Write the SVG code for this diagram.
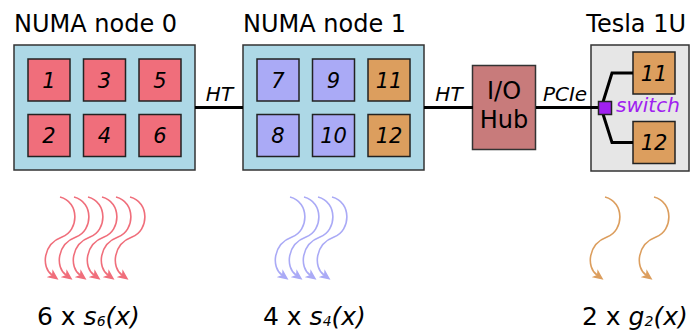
<svg xmlns="http://www.w3.org/2000/svg" width="692" height="331" viewBox="0 0 692 331">
<style>
text{font-family:"DejaVu Sans","Liberation Sans",sans-serif;fill:#000}
.title{font-size:24px}
.num{font-size:21px;font-style:italic;text-anchor:middle}
.lbl{font-size:20px;font-style:italic;text-anchor:middle}
.box{fill:#add8e6;stroke:#333;stroke-width:1.5}
.red{fill:#f06e7b;stroke:#222;stroke-width:1.5}
.blu{fill:#aaaaf6;stroke:#222;stroke-width:1.5}
.org{fill:#dc9e5e;stroke:#222;stroke-width:1.5}
.wire{stroke:#000;stroke-width:3;fill:none}
.bot{font-size:25px}
.it{font-style:italic}
</style>
<defs>
<path id="wave" d="M0,0 C20,5 19,34 2,40 C-17,47 -19,70 -8,78" fill="none" stroke-width="1.6"/>
<marker id="mr" markerUnits="userSpaceOnUse" markerWidth="11" markerHeight="10" viewBox="0 0 11 10" refX="3" refY="5" orient="auto"><path d="M0,0 L11,5 L0,10 L3,5 z" fill="#f06e7b"/></marker>
<marker id="mb" markerUnits="userSpaceOnUse" markerWidth="11" markerHeight="10" viewBox="0 0 11 10" refX="3" refY="5" orient="auto"><path d="M0,0 L11,5 L0,10 L3,5 z" fill="#aaaaf6"/></marker>
<marker id="mo" markerUnits="userSpaceOnUse" markerWidth="11" markerHeight="10" viewBox="0 0 11 10" refX="3" refY="5" orient="auto"><path d="M0,0 L11,5 L0,10 L3,5 z" fill="#dc9e5e"/></marker>
</defs>

<g id="numa0">
<text class="title" x="14" y="32">NUMA node 0</text>
<rect class="box" x="14" y="45" width="181" height="125"/>
<rect class="red" x="28" y="59" width="42" height="42"/><text class="num" x="49" y="87.5">1</text>
<rect class="red" x="83.5" y="59" width="42" height="42"/><text class="num" x="104.5" y="87.5">3</text>
<rect class="red" x="139" y="59" width="42" height="42"/><text class="num" x="160" y="87.5">5</text>
<rect class="red" x="28" y="114.5" width="42" height="42"/><text class="num" x="49" y="143">2</text>
<rect class="red" x="83.5" y="114.5" width="42" height="42"/><text class="num" x="104.5" y="143">4</text>
<rect class="red" x="139" y="114.5" width="42" height="42"/><text class="num" x="160" y="143">6</text>
</g>

<g id="numa1">
<text class="title" x="243" y="32">NUMA node 1</text>
<rect class="box" x="243" y="45" width="181" height="125"/>
<rect class="blu" x="257" y="59" width="42" height="42"/><text class="num" x="278" y="87.5">7</text>
<rect class="blu" x="312.5" y="59" width="42" height="42"/><text class="num" x="333.5" y="87.5">9</text>
<rect class="org" x="368" y="59" width="42" height="42"/><text class="num" x="389" y="87.5">11</text>
<rect class="blu" x="257" y="114.5" width="42" height="42"/><text class="num" x="278" y="143">8</text>
<rect class="blu" x="312.5" y="114.5" width="42" height="42"/><text class="num" x="333.5" y="143">10</text>
<rect class="org" x="368" y="114.5" width="42" height="42"/><text class="num" x="389" y="143">12</text>
</g>

<g id="iohub">
<rect x="472.5" y="65.5" width="63" height="84" fill="#c87b7b" stroke="#333" stroke-width="1.5"/>
<text class="title" x="504" y="99" text-anchor="middle">I/O</text>
<text class="title" x="504" y="128" text-anchor="middle">Hub</text>
</g>

<g id="tesla">
<text class="title" x="686" y="32" text-anchor="end">Tesla 1U</text>
<rect x="591" y="45" width="98" height="126" fill="#e6e6e6" stroke="#333" stroke-width="1.5"/>
<rect class="org" x="633" y="52" width="42" height="42"/><text class="num" x="654" y="80.5">11</text>
<rect class="org" x="633" y="121.5" width="42" height="42"/><text class="num" x="654" y="150">12</text>
</g>

<g id="connectors">
<line class="wire" x1="195" y1="107.5" x2="243" y2="107.5"/>
<line class="wire" x1="424" y1="107.5" x2="473" y2="107.5"/>
<line class="wire" x1="536" y1="107.5" x2="599" y2="107.5"/>
<polyline class="wire" points="603,102 612,73 633,73"/>
<polyline class="wire" points="603,114 612,142.5 633,142.5"/>
<text class="lbl" x="219.5" y="101">HT</text>
<text class="lbl" x="449" y="101">HT</text>
<text class="lbl" x="565" y="101">PCIe</text>
</g>

<g id="switch">
<rect x="598.5" y="101.5" width="13" height="13" fill="#a020f0" stroke="#222" stroke-width="1.5"/>
<text x="616" y="112" font-size="20" font-style="italic" style="fill:#a020f0">switch</text>
</g>

<g id="arrows">
<g stroke="#f06e7b">
<use href="#wave" x="60" y="197" marker-end="url(#mr)"/>
<use href="#wave" x="74" y="197" marker-end="url(#mr)"/>
<use href="#wave" x="88" y="197" marker-end="url(#mr)"/>
<use href="#wave" x="102" y="197" marker-end="url(#mr)"/>
<use href="#wave" x="116" y="197" marker-end="url(#mr)"/>
<use href="#wave" x="130" y="197" marker-end="url(#mr)"/>
</g>
<g stroke="#aaaaf6">
<use href="#wave" x="290" y="197" marker-end="url(#mb)"/>
<use href="#wave" x="304" y="197" marker-end="url(#mb)"/>
<use href="#wave" x="318" y="197" marker-end="url(#mb)"/>
<use href="#wave" x="332" y="197" marker-end="url(#mb)"/>
</g>
<g stroke="#dc9e5e">
<use href="#wave" x="605" y="197" marker-end="url(#mo)"/>
<use href="#wave" x="654" y="197" marker-end="url(#mo)"/>
</g>
</g>

<g id="labels">
<text class="bot" x="37" y="325">6 x <tspan class="it">s</tspan><tspan class="it" font-size="14" dy="1">6</tspan><tspan class="it" dy="-1">(x)</tspan></text>
<text class="bot" x="263" y="325">4 x <tspan class="it">s</tspan><tspan class="it" font-size="14" dy="1">4</tspan><tspan class="it" dy="-1">(x)</tspan></text>
<text class="bot" x="582" y="325">2 x <tspan class="it">g</tspan><tspan class="it" font-size="14" dy="1">2</tspan><tspan class="it" dy="-1">(x)</tspan></text>
</g>
</svg>
